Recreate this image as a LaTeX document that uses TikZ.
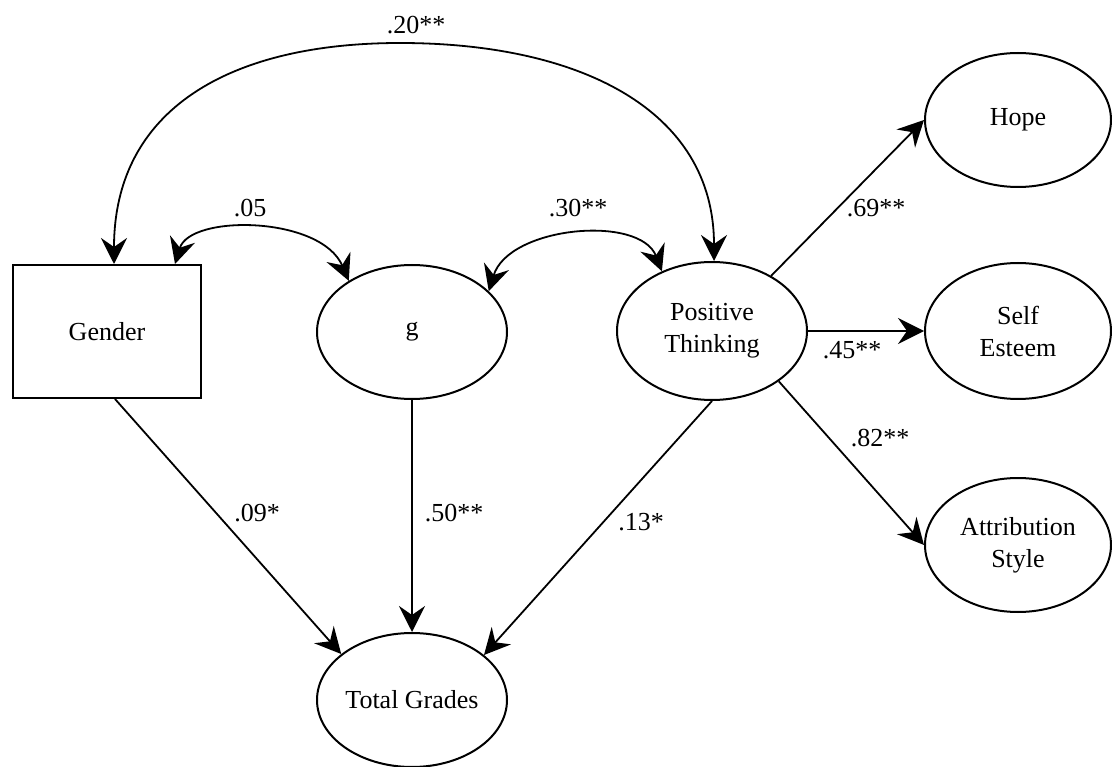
\documentclass[tikz,border=0pt]{standalone}
\usepackage{fontspec}
\setmainfont{Liberation Serif}
\usetikzlibrary{shapes.geometric,arrows.meta}
\begin{document}
\begin{tikzpicture}[x=1pt,y=-1pt,
  every node/.style={font=\fontsize{26}{32}\selectfont},
  lat/.style={draw, ellipse, line width=2pt, minimum width=190pt, minimum height=134pt, inner sep=0pt, align=center},
  obs/.style={draw, rectangle, line width=2pt, minimum width=188pt, minimum height=133pt, inner sep=0pt},
  tip/.tip={Stealth[length=26pt,width=26pt,inset=9pt]},
  pathar/.style={line width=1.8pt, -tip},
  cov/.style={line width=1.8pt, tip-tip},
  lbl/.style={inner sep=0pt}
]
\useasboundingbox (0,0) rectangle (1112,767);
\node[obs] (gender) at (107,331.5) {Gender};
\node[lat] (g) at (412,332) {g};
\node[lat, minimum height=138pt] (pt) at (712,331) {Positive\\Thinking};
\node[lat, minimum width=186pt] (hope) at (1018,120) {Hope};
\node[lat, minimum width=186pt, minimum height=136pt] (se) at (1018,331) {Self\\Esteem};
\node[lat, minimum width=186pt] (as) at (1018,545) {Attribution\\Style};
\node[lat] (tg) at (412,700) {Total Grades};

\coordinate (top) at (400,43);
\draw[cov] ([xshift=7pt]gender.north) .. controls +(0,-155) and (230,43) .. (top) .. controls (580,43) and (714,110) .. ([xshift=2pt]pt.north);
\draw[cov] ([xshift=68pt]gender.north) .. controls +(15,-50) and +(-28,-65) .. (g.141);
\draw[cov] (g.28) .. controls +(20,-65) and +(-22,-57) .. (pt.130);

\draw[pathar] ([xshift=8pt]gender.south) -- (tg.147);
\draw[pathar] (g.south) -- (tg.north);
\draw[pathar] (pt.south) -- (tg.32);
\draw[pathar] (pt.43) -- (hope.west);
\draw[pathar] (pt.east) -- (se.west);
\draw[pathar] (pt.-37) -- (as.west);

\node[lbl] (l20) at (416,25) {.20**};
\node[lbl] (l05) at (250,208) {.05};
\node[lbl] (l30) at (578,208) {.30**};
\node[lbl] (l69) at (876,208) {.69**};
\node[lbl] (l45) at (852,350) {.45**};
\node[lbl] (l82) at (880,438) {.82**};
\node[lbl] (l09) at (257,513) {.09*};
\node[lbl] (l50) at (454,513) {.50**};
\node[lbl] (l13) at (641,522) {.13*};
\end{tikzpicture}
\end{document}
